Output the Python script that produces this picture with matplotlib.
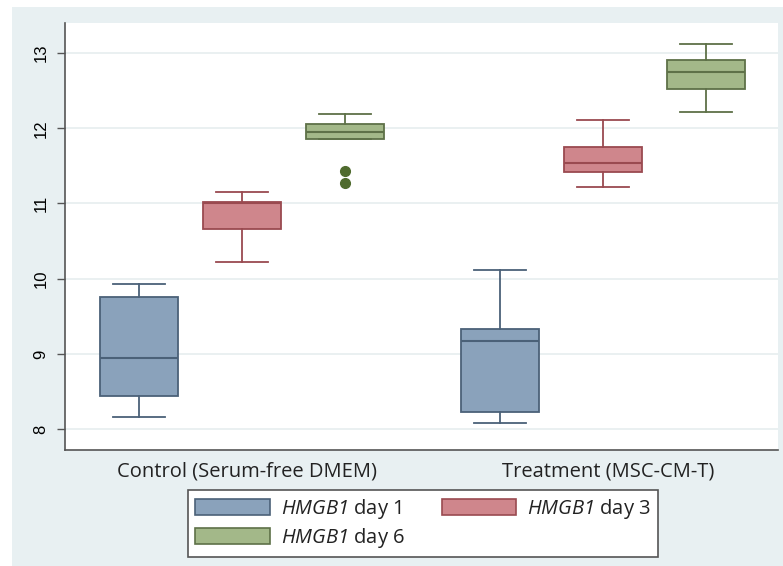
import numpy as np
import matplotlib
matplotlib.use("Agg")
import matplotlib.pyplot as plt
from matplotlib.patches import Rectangle, Patch

plt.rcParams['font.family'] = ['Open Sans', 'DejaVu Sans']
plt.rcParams['mathtext.fontset'] = 'custom'
plt.rcParams['mathtext.rm'] = 'Open Sans'
# sf slot used for the italic gene name so the digit stays italic too
plt.rcParams['mathtext.sf'] = 'Open Sans:italic'

## data (box summaries)
groups = ["Control (Serum-free DMEM)", "Treatment (MSC-CM-T)"]
series = ["day 1", "day 3", "day 6"]
whislo = [[8.16, 10.22, 11.85], [8.08, 11.22, 12.21]]
q1 = [[8.44, 10.66, 11.85], [8.22, 11.42, 12.52]]
med = [[8.95, 11.01, 11.95], [9.17, 11.54, 12.75]]
q3 = [[9.76, 11.02, 12.06], [9.33, 11.75, 12.91]]
whishi = [[9.93, 11.15, 12.19], [10.11, 12.11, 13.12]]
fliers = [[[], [], [11.43, 11.27]], [[], [], []]]

# Stata-ish colours
fills = ["#8aa2bb", "#cf868c", "#a3b889"]
edges = ["#4b6178", "#9a4a50", "#5e7148"]
flier_col = "#4f6b2e"

fig = plt.figure(figsize=(7.83, 5.66), dpi=100)
fig.patch.set_facecolor("white")
# light panel behind everything
fig.patches.append(Rectangle((12/783, 0), 1, 1 - 7/566, transform=fig.transFigure,
                             facecolor="#e8f0f2", edgecolor="none", zorder=-10))

ax = fig.add_axes([65/783, 1 - 450/566, 713/783, 427/566])
ax.set_facecolor("white")

positions = [[0, 1, 2], [3.5, 4.5, 5.5]]
for g in range(2):
    for s in range(3):
        st = dict(med=med[g][s], q1=q1[g][s], q3=q3[g][s],
                  whislo=whislo[g][s], whishi=whishi[g][s], fliers=fliers[g][s])
        ax.bxp([st], positions=[positions[g][s]], widths=0.75, patch_artist=True,
               showfliers=True, manage_ticks=False,
               boxprops=dict(facecolor=fills[s], edgecolor=edges[s], linewidth=1.3),
               medianprops=dict(color=edges[s], linewidth=1.5),
               whiskerprops=dict(color=edges[s], linewidth=1.3),
               capprops=dict(color=edges[s], linewidth=1.3),
               capwidths=0.5,
               flierprops=dict(marker='o', markerfacecolor=flier_col,
                               markeredgecolor=flier_col, markersize=7))

ax.set_xlim(-0.716, 6.197)
ax.set_ylim(7.721, 13.399)
ax.set_yticks([8, 9, 10, 11, 12, 13])
ax.set_yticklabels(["8", "9", "10", "11", "12", "13"], rotation=90, va='center',
                   family='Liberation Sans', fontsize=12)
ax.grid(axis='y', color="#e6edef", linewidth=1.2)
ax.set_axisbelow(True)
ax.tick_params(axis='y', length=6, width=1, color="#555555", pad=6)
ax.set_xticks([1.05, 4.55])
ax.set_xticklabels(groups, fontsize=14.5, color="#222222")
ax.tick_params(axis='x', length=0, pad=8)
for side in ['top', 'right']:
    ax.spines[side].set_visible(False)
for side in ['left', 'bottom']:
    ax.spines[side].set_color("#555555")
    ax.spines[side].set_linewidth(1.2)

# legend, filled row by row like the original (day 1, day 3 / day 6)
handles = [Patch(facecolor=fills[i], edgecolor=edges[i], linewidth=1.2) for i in range(3)]
labels = [r"$\mathsf{HMGB1}$ " + s for s in series]
order = [0, 2, 1]
leg = fig.legend([handles[i] for i in order], [labels[i] for i in order], ncol=2,
                 loc='upper left', bbox_to_anchor=(188/783, 1 - 490/566, 470/783, 0),
                 mode='expand', fontsize=14.5, frameon=True, fancybox=False,
                 facecolor="white", framealpha=1, edgecolor="#555555",
                 handlelength=3.7, handleheight=0.9, borderpad=0.35,
                 labelspacing=0.25, handletextpad=0.55, borderaxespad=0)
leg.get_frame().set_linewidth(1.2)
for t in leg.get_texts():
    t.set_color("#222222")

plt.savefig("out.png", dpi=100)
